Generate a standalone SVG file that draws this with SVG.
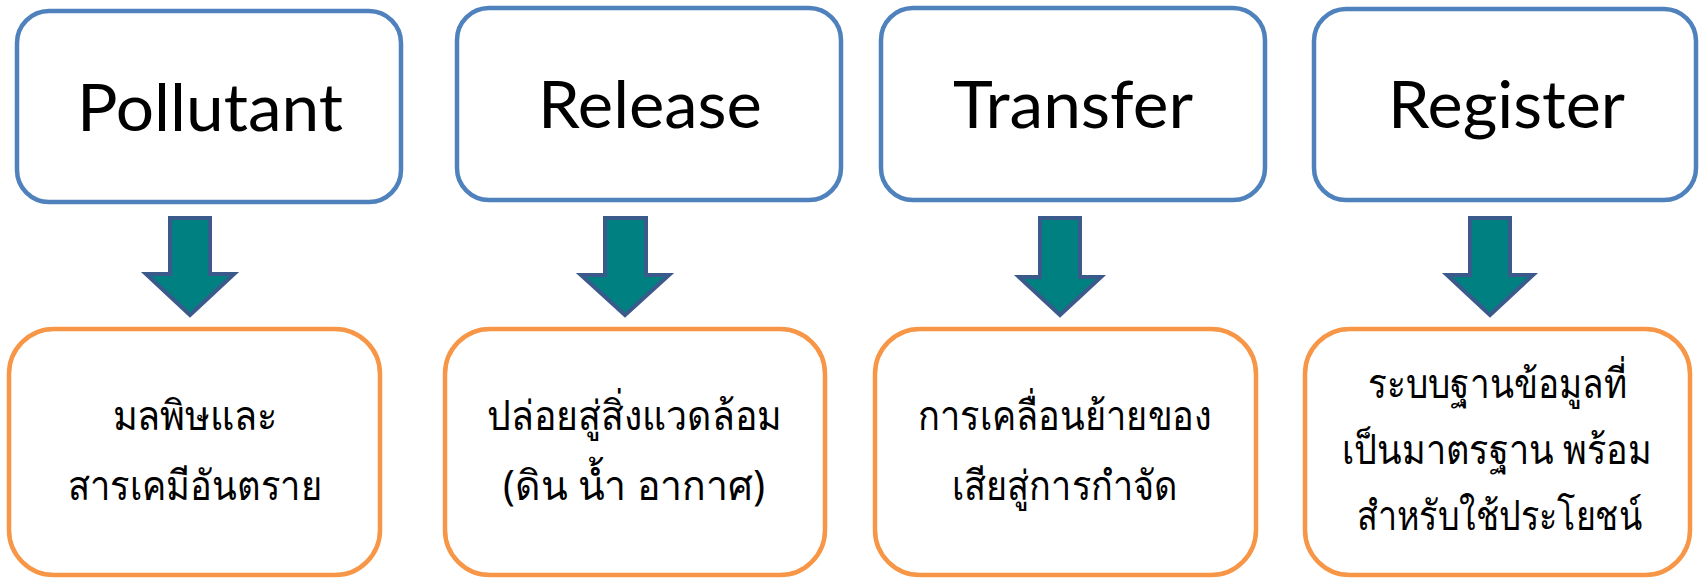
<svg xmlns="http://www.w3.org/2000/svg" width="1700" height="580" viewBox="0 0 1700 580">
<style>
.top{fill:#fff;stroke:#4F81BD;stroke-width:4.5}
.bot{fill:#fff;stroke:#F79646;stroke-width:4.5}
.en{font-family:Lato,"Open Sans",sans-serif;font-size:65px;fill:#000;text-anchor:middle}
.th{font-family:"Noto Sans","DejaVu Sans",sans-serif;font-size:41px;fill:#000;text-anchor:middle}
.arr{fill:#008080;stroke:#3B5A8C;stroke-width:4;stroke-linejoin:miter}
</style>
<rect width="1700" height="580" fill="#fff"/>
<g id="connectors">
<polygon class="arr" points="170,218 210,218 210,274 234,274 190,315 146,274 170,274"/>
<polygon class="arr" points="605,218 646,218 646,275 669,275 625,315 581,275 605,275"/>
<polygon class="arr" points="1040,218 1080,218 1080,277 1101,277 1060,315 1019,277 1040,277"/>
<polygon class="arr" points="1470,218 1510,218 1510,275 1533,275 1490,315 1447,275 1470,275"/>
</g>
<g id="n-pollutant"><rect class="top" x="17" y="11" width="384" height="191" rx="32"/><text class="en" x="210" y="131" textLength="266" lengthAdjust="spacingAndGlyphs">Pollutant</text></g>
<g id="n-release"><rect class="top" x="457" y="8" width="384" height="192" rx="32"/><text class="en" x="650" y="128" textLength="224" lengthAdjust="spacingAndGlyphs">Release</text></g>
<g id="n-transfer"><rect class="top" x="881" y="8" width="384" height="192" rx="32"/><text class="en" x="1073" y="128" textLength="240" lengthAdjust="spacingAndGlyphs">Transfer</text></g>
<g id="n-register"><rect class="top" x="1314" y="9" width="382" height="191" rx="32"/><text class="en" x="1506.5" y="128" textLength="237" lengthAdjust="spacingAndGlyphs">Register</text></g>
<g id="n-b1"><rect class="bot" x="9" y="329" width="371" height="246" rx="45"/><text class="th" x="195" y="430" textLength="165" lengthAdjust="spacingAndGlyphs">มลพิษและ</text><text class="th" x="195" y="500" textLength="254" lengthAdjust="spacingAndGlyphs">สารเคมีอันตราย</text></g>
<g id="n-b2"><rect class="bot" x="445" y="329" width="380" height="246" rx="45"/><text class="th" x="634.5" y="430" textLength="295" lengthAdjust="spacingAndGlyphs">ปล่อยสู่สิ่งแวดล้อม</text><text class="th" x="634" y="500" textLength="262" lengthAdjust="spacingAndGlyphs">(ดิน น้ำ อากาศ)</text></g>
<g id="n-b3"><rect class="bot" x="875" y="329" width="381" height="246" rx="45"/><text class="th" x="1065" y="430" textLength="294" lengthAdjust="spacingAndGlyphs">การเคลื่อนย้ายของ</text><text class="th" x="1065" y="500" textLength="226" lengthAdjust="spacingAndGlyphs">เสียสู่การกำจัด</text></g>
<g id="n-b4"><rect class="bot" x="1305" y="329" width="385" height="246" rx="45"/><text class="th" x="1497.5" y="398" textLength="259" lengthAdjust="spacingAndGlyphs">ระบบฐานข้อมูลที่</text><text class="th" x="1497" y="464" textLength="310" lengthAdjust="spacingAndGlyphs">เป็นมาตรฐาน พร้อม</text><text class="th" x="1499.5" y="530" textLength="285" lengthAdjust="spacingAndGlyphs">สำหรับใช้ประโยชน์</text></g>
</svg>
